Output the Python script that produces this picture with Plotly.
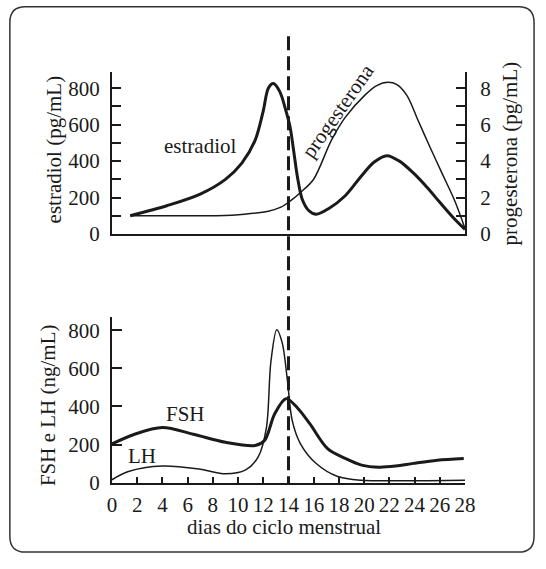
import plotly.graph_objects as go

# ---------------- data ----------------
estradiol_days = [1.45, 4.4, 7.0, 9.0, 10.3, 11.35, 12.0, 12.4, 12.8, 13.3, 13.8, 14.13, 14.44, 14.7, 15.08, 15.6, 16.2,
                  17.2, 18.5, 19.8, 20.8, 21.8, 22.8, 23.9, 25.0, 26.0, 27.0, 28.0]
estradiol_vals = [100, 156, 219, 300, 389, 514, 676, 800, 826, 783, 676, 586, 442, 317, 192, 129, 108,
                  140, 210, 320, 395, 430, 400, 335, 255, 174, 95, 25]

progesterona_days = [1.45, 5.0, 8.3, 10.5, 12.4, 13.4, 14.18, 14.95, 15.98, 17.4, 18.5, 20.1, 21.0, 21.9, 22.6, 23.4,
                     24.3, 25.2, 26.2, 27.2, 28.0]
progesterona_vals = [1.0, 1.0, 1.0, 1.08, 1.25, 1.47, 1.83, 2.28, 2.99, 5.14, 6.4, 7.65, 8.15, 8.33, 8.2, 7.6,
                     6.2, 4.8, 3.3, 1.8, 0.3]

fsh_days = [0, 1.8, 4.0, 6.45, 9.0, 11.35, 12.1, 12.9, 13.8, 14.7, 15.7, 17.1, 18.5, 19.8, 21.2, 22.5, 23.9, 25.8, 27.9]
fsh_vals = [203, 254, 289, 254, 212, 195, 221, 360, 441, 393, 308, 178, 127, 92, 81, 87, 101, 118, 127]

lh_days = [0, 1.3, 4.0, 7.0, 9.0, 10.6, 11.6, 12.25, 12.6, 13.07, 13.5, 13.9, 14.3, 14.95, 16.2, 17.9, 19.8, 22.0, 25.0, 28.0]
lh_vals = [15, 58, 87, 70, 46, 67, 135, 289, 632, 803, 735, 546, 324, 204, 100, 32, 12, 10, 10, 12]

x_ticks = list(range(0, 29, 2))
ovulation_day = 14

W, H = 546, 569
FONT = "Liberation Serif, Times New Roman, Times, serif"
FS = 21
INK = "#1a1a1a"


def px(v):
    return v / W


def py(v):
    return 1 - v / H


fig = go.Figure()

# top panel
fig.add_trace(go.Scatter(x=estradiol_days, y=estradiol_vals, mode="lines",
                         line=dict(color=INK, width=3, shape="spline", smoothing=0.9),
                         xaxis="x2", yaxis="y2", hoverinfo="skip"))
fig.add_trace(go.Scatter(x=progesterona_days, y=progesterona_vals, mode="lines",
                         line=dict(color=INK, width=1.5, shape="spline", smoothing=0.9),
                         xaxis="x2", yaxis="y3", hoverinfo="skip"))
# bottom panel
fig.add_trace(go.Scatter(x=fsh_days, y=fsh_vals, mode="lines",
                         line=dict(color=INK, width=3, shape="spline", smoothing=0.9),
                         xaxis="x", yaxis="y", hoverinfo="skip"))
fig.add_trace(go.Scatter(x=lh_days, y=lh_vals, mode="lines",
                         line=dict(color=INK, width=1.5, shape="spline", smoothing=0.9),
                         xaxis="x", yaxis="y", hoverinfo="skip"))

xdom = [px(110), px(473)]
axis_common = dict(showgrid=False, zeroline=False, showline=True, linecolor=INK, linewidth=2,
                   tickfont=dict(family=FONT, size=FS, color=INK))

fig.update_layout(
    width=W, height=H,
    margin=dict(l=0, r=0, t=0, b=0),
    paper_bgcolor="white", plot_bgcolor="rgba(0,0,0,0)",
    showlegend=False,
    font=dict(family=FONT, size=FS, color=INK),
    xaxis=dict(domain=xdom, range=[0, 28], anchor="y", tickmode="array", tickvals=x_ticks,
               ticks="inside", ticklen=6, tickwidth=2, tickcolor=INK, ticklabelstandoff=2, **axis_common),
    yaxis=dict(domain=[py(493), py(323.8)], range=[0, 870], anchor="x", dtick=200, tick0=0,
               ticks="inside", ticklen=10, tickwidth=2, tickcolor=INK, ticklabelstandoff=6, **axis_common),
    xaxis2=dict(domain=xdom, range=[0, 28], anchor="y2", showticklabels=False, ticks="", **axis_common),
    yaxis2=dict(domain=[py(239), py(74)], range=[0, 887], anchor="x2", dtick=200, tick0=0,
                ticks="inside", ticklen=9, tickwidth=2, tickcolor=INK, ticklabelstandoff=6,
                minor=dict(dtick=100, tick0=0, ticks="inside", ticklen=9, tickwidth=2, tickcolor=INK),
                **axis_common),
    yaxis3=dict(range=[0, 8.87], overlaying="y2", anchor="x2", side="right", dtick=2, tick0=0,
                ticks="inside", ticklen=9, tickwidth=2, tickcolor=INK, ticklabelstandoff=9,
                minor=dict(dtick=1, tick0=0, ticks="inside", ticklen=9, tickwidth=2, tickcolor=INK),
                **axis_common),
)

# dashed ovulation line spanning both panels
fig.add_shape(type="line", xref="x", yref="paper", x0=ovulation_day, x1=ovulation_day,
              y0=py(37), y1=py(494), line=dict(color=INK, width=3, dash="14px,6px"))

# rounded border
x0b, x1b, y0b, y1b, r = 5, 544, 7, 564, 16
path = (f"M {px(x0b + r)},{py(y0b)} L {px(x1b - r)},{py(y0b)} Q {px(x1b)},{py(y0b)} {px(x1b)},{py(y0b + r)} "
        f"L {px(x1b)},{py(y1b - r)} Q {px(x1b)},{py(y1b)} {px(x1b - r)},{py(y1b)} "
        f"L {px(x0b + r)},{py(y1b)} Q {px(x0b)},{py(y1b)} {px(x0b)},{py(y1b - r)} "
        f"L {px(x0b)},{py(y0b + r)} Q {px(x0b)},{py(y0b)} {px(x0b + r)},{py(y0b)} Z")
fig.add_shape(type="path", xref="paper", yref="paper", path=path, line=dict(color="#333333", width=1.5))

def label(text, x, y, angle=0, size=FS):
    fig.add_annotation(text=text, xref="paper", yref="paper", x=px(x), y=py(y), showarrow=False,
                       textangle=angle, xanchor="center", yanchor="middle",
                       font=dict(family=FONT, size=size, color=INK))

label("estradiol (pg/mL)", 50, 153, -90)
label("progesterona (pg/mL)", 519, 157, -90)
label("FSH e LH (ng/mL)", 44, 414, -90)
label("dias do ciclo menstrual", 287, 538)
label("estradiol", 200, 149)
label("progesterona", 342, 113, -55)
label("FSH", 186, 423)
label("LH", 141, 466)

fig.write_html("out.html", config={"displayModeBar": False},
               post_script="document.body.style.margin='0';")
